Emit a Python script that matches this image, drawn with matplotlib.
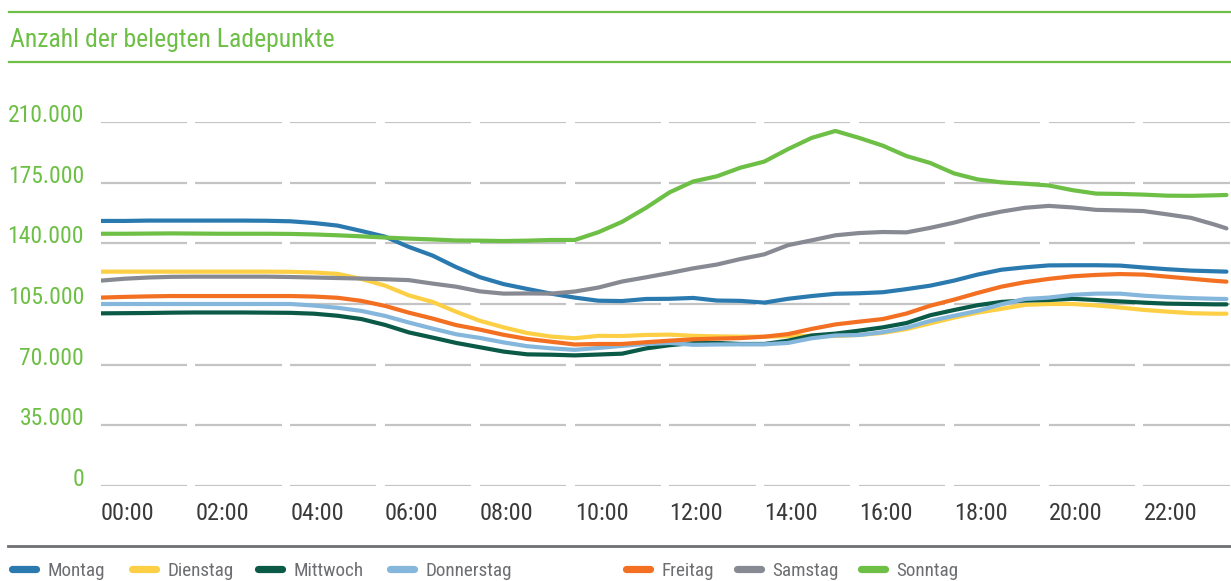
import matplotlib
matplotlib.use("Agg")
import matplotlib.pyplot as plt
from matplotlib.lines import Line2D

plt.rcParams['font.family'] = ['Roboto Condensed', 'DejaVu Sans']
plt.rcParams['font.stretch'] = 'condensed'

# Half-hourly readings (hours since midnight) and occupied charge points in thousands
hours = [i * 0.5 for i in range(48)] + [23.75]

montag = [153.0, 153.0, 153.2, 153.2, 153.2, 153.2, 153.2, 153.1, 152.8, 151.8,
          150.3, 147.2, 143.9, 138.0, 133.0, 126.3, 120.5, 116.5, 113.7, 111.0,
          108.7, 106.9, 106.7, 107.9, 108.0, 108.5, 107.0, 106.8, 105.8, 108.0,
          109.6, 110.9, 111.2, 111.8, 113.6, 115.6, 118.5, 122.0, 124.8, 126.2,
          127.3, 127.4, 127.4, 127.2, 126.1, 125.1, 124.3, 123.9, 123.7]
dienstag = [123.7, 123.7, 123.7, 123.7, 123.7, 123.7, 123.7, 123.7, 123.6, 123.2,
            122.4, 119.5, 115.6, 110.0, 106.2, 100.5, 95.3, 91.5, 88.2, 86.2,
            85.2, 86.6, 86.5, 87.1, 87.3, 86.6, 86.3, 86.1, 86.1, 86.5,
            86.6, 86.5, 87.1, 88.3, 90.5, 93.8, 97.1, 100.0, 102.2, 104.5,
            105.0, 105.0, 104.2, 103.0, 101.6, 100.6, 99.7, 99.4, 99.4]
mittwoch = [99.6, 99.7, 99.8, 100.0, 100.1, 100.1, 100.1, 100.0, 99.9, 99.4,
            98.2, 96.3, 92.9, 88.6, 85.6, 82.5, 80.0, 77.5, 75.9, 75.7,
            75.3, 75.8, 76.3, 79.3, 81.2, 82.4, 82.5, 81.9, 81.9, 83.8,
            86.8, 87.9, 89.6, 91.5, 94.0, 98.5, 101.5, 104.3, 106.2, 107.0,
            107.3, 108.0, 107.3, 106.5, 105.8, 105.2, 105.0, 104.8, 104.8]
donnerstag = [105.0, 105.0, 105.0, 105.0, 105.0, 105.0, 105.0, 105.0, 105.0, 104.1,
              102.8, 101.0, 98.1, 94.3, 90.8, 87.5, 85.4, 82.8, 80.6, 79.4,
              78.5, 79.6, 80.8, 81.9, 82.5, 81.4, 81.6, 81.7, 81.7, 82.5,
              85.2, 86.8, 87.1, 88.7, 91.3, 95.2, 98.2, 101.0, 104.8, 107.9,
              108.7, 110.3, 111.0, 111.0, 109.8, 109.0, 108.4, 108.0, 107.9]
freitag = [108.7, 109.1, 109.4, 109.6, 109.6, 109.6, 109.6, 109.6, 109.6, 109.3,
           108.6, 106.8, 103.9, 100.0, 96.6, 92.8, 90.2, 87.2, 84.8, 83.2,
           81.6, 81.9, 81.9, 82.9, 83.8, 84.6, 85.0, 85.3, 86.1, 87.6,
           90.6, 93.2, 94.8, 96.3, 99.5, 104.0, 107.5, 111.4, 115.0, 117.6,
           119.5, 121.0, 121.8, 122.3, 122.0, 120.8, 119.6, 118.4, 117.9]
samstag = [118.5, 119.6, 120.3, 120.7, 120.8, 120.8, 120.8, 120.8, 120.6, 120.3,
           120.0, 119.7, 119.3, 118.8, 116.8, 115.0, 112.3, 111.0, 111.1, 111.0,
           112.2, 114.5, 118.0, 120.4, 122.9, 125.6, 127.8, 131.0, 133.7, 139.0,
           141.8, 144.7, 146.0, 146.6, 146.4, 149.0, 152.0, 155.6, 158.4, 160.6,
           161.7, 160.8, 159.4, 159.1, 158.7, 156.8, 154.8, 150.9, 148.7]
sonntag = [145.6, 145.6, 145.7, 145.8, 145.7, 145.6, 145.6, 145.6, 145.5, 145.2,
           144.7, 144.1, 143.4, 142.8, 142.3, 141.7, 141.6, 141.4, 141.6, 142.0,
           142.0, 146.5, 152.5, 160.5, 169.5, 175.8, 178.8, 183.8, 187.3, 194.5,
           201.0, 205.0, 201.0, 196.5, 190.5, 186.5, 180.5, 177.0, 175.3, 174.5,
           173.5, 170.8, 168.8, 168.6, 168.2, 167.6, 167.5, 167.8, 168.0]

day_names = ["Montag", "Dienstag", "Mittwoch", "Donnerstag", "Freitag", "Samstag", "Sonntag"]
day_values = [montag, dienstag, mittwoch, donnerstag, freitag, samstag, sonntag]
day_colors = ["#2a7ab0", "#fdcf45", "#0b5a48", "#85b7dc", "#f36f21", "#878a92", "#6dbf45"]

y_ticks = [0, 35000, 70000, 105000, 140000, 175000, 210000]
x_ticks = list(range(0, 24, 2))
x_labels = [f"{h:02d}:00" for h in x_ticks]

GREEN = "#6dbf45"
W, H = 1231, 581


def fx(px):
    return px / W


def fy(py):
    return 1 - py / H


fig = plt.figure(figsize=(W / 100, H / 100), dpi=100)

# plotting area: 00:00 at x=100.7 px, 2 h = 94.8 px; 0 at y=485.7 px, 210.000 at y=122.3 px
x0, y0, ytop = 100.7, 485.7, 122.3
px_per_hour = 47.4
ax = fig.add_axes([fx(x0), fy(y0), fx(W - x0), (y0 - ytop) / H])
ax.set_xlim(0, (W - x0) / px_per_hour)
ax.set_ylim(0, 210000)
for s in ax.spines.values():
    s.set_visible(False)

# broken horizontal gridlines, one segment per two-hour band
for v in y_ticks:
    for h in x_ticks:
        ax.plot([h, h + 1.815], [v, v], color="#c4c4c4", lw=1.6, solid_capstyle="butt", zorder=1)

for name, vals, col in zip(day_names, day_values, day_colors):
    ax.plot(hours, [v * 1000 for v in vals], color=col, lw=3.0, solid_joinstyle="round",
            solid_capstyle="round", zorder=3)

ax.set_yticks(y_ticks)
ax.set_yticklabels([f"{v:,.0f}".replace(",", ".") for v in y_ticks])
ax.set_xticks(x_ticks)
ax.set_xticklabels(x_labels)
ax.tick_params(axis="y", length=0, pad=12, labelsize=17, labelcolor=GREEN)
ax.tick_params(axis="x", length=0, pad=11.5, labelsize=17.5, labelcolor="#3a3a3a")
for lbl in ax.get_yticklabels():
    lbl.set_verticalalignment("baseline")
for lbl in ax.get_xticklabels():
    lbl.set_horizontalalignment("left")

# header rules and title
for yy in (12.3, 61.7):
    fig.add_artist(Line2D([fx(9.3), 1.0], [fy(yy), fy(yy)], color=GREEN, lw=1.6))
fig.text(fx(10), fy(47.5), "Anzahl der belegten Ladepunkte", color=GREEN,
         fontsize=18.5, ha="left", va="baseline")

# legend rule and entries
fig.add_artist(Line2D([fx(8), 1.0], [fy(545.7), fy(545.7)], color="#6e6f73", lw=2.0))
legend_x = [8.3, 128, 254, 386, 622, 733, 857]
for lx, name, col in zip(legend_x, day_names, day_colors):
    fig.add_artist(Line2D([fx(lx + 3.5), fx(lx + 27.5)], [fy(569), fy(569)], color=col,
                          lw=5.2, solid_capstyle="round"))
    fig.text(fx(lx + 39.5), fy(576.5), name, color="#6d6e71", fontsize=13.8,
             ha="left", va="baseline")

fig.savefig("out.png", dpi=100)
